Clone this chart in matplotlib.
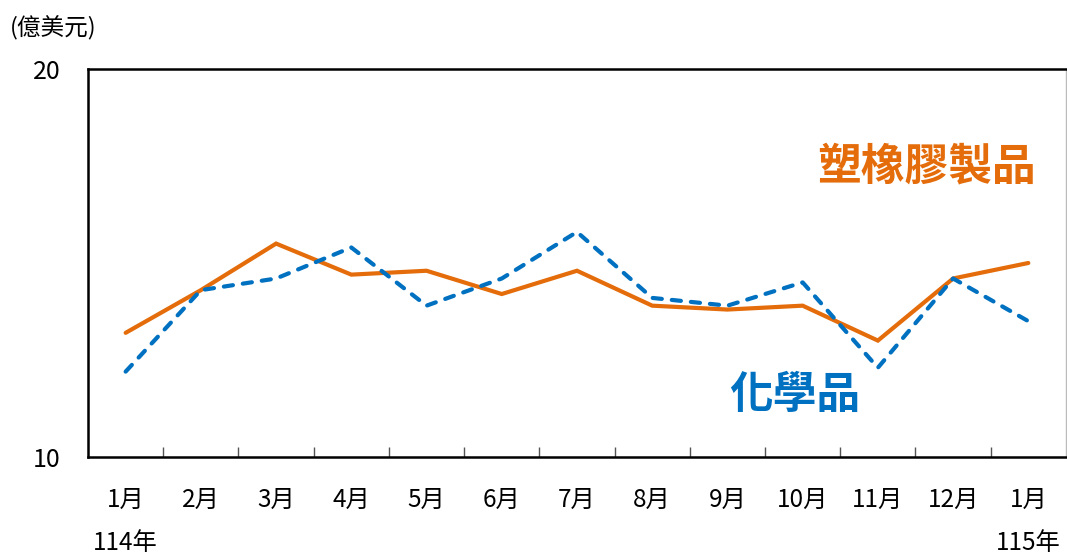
import matplotlib
matplotlib.use("Agg")
import matplotlib.pyplot as plt
import matplotlib.transforms as mtransforms

plt.rcParams['font.family'] = ['Noto Sans CJK TC', 'DejaVu Sans']

# data (億美元)
months = ["1月", "2月", "3月", "4月", "5月", "6月", "7月",
          "8月", "9月", "10月", "11月", "12月", "1月"]
plastics = [13.2, 14.3, 15.5, 14.7, 14.8, 14.2, 14.8,
            13.9, 13.8, 13.9, 13.0, 14.6, 15.0]
chemicals = [12.2, 14.3, 14.6, 15.4, 13.9, 14.6, 15.8,
             14.1, 13.9, 14.5, 12.3, 14.6, 13.5]
years = ["114年", "115年"]

orange = "#E46C0A"
blue = "#0070C0"

fig = plt.figure(figsize=(10.67, 5.55), dpi=100)
ax = fig.add_axes([0.0825, 0.1766, 0.9165, 0.6991])

x = list(range(len(months)))
ax.plot(x, plastics, color=orange, lw=3.0, solid_capstyle='round',
        solid_joinstyle='miter')
ax.plot(x, chemicals, color=blue, lw=3.0, dashes=(2.2, 2.4),
        dash_capstyle='round')

ax.set_xlim(-0.5, len(months) - 0.5)
ax.set_ylim(10, 20)
ax.set_yticks([10, 20])
ax.set_yticklabels(["10", "20"], fontsize=18)
ax.tick_params(axis='y', length=0, pad=20)

# tick marks between categories, labels drawn as text
ax.set_xticks([i + 0.5 for i in range(len(months) - 1)])
ax.set_xticklabels([])
ax.tick_params(axis='x', direction='in', length=7, width=1, color='#555555')

trans = mtransforms.blended_transform_factory(ax.transData, ax.transAxes)
for i, m in enumerate(months):
    ax.text(i, -0.11, m, transform=trans, ha='center', va='center', fontsize=17.5)
ax.text(0, -0.222, years[0], transform=trans, ha='center', va='center', fontsize=17.5)
ax.text(len(months) - 1, -0.222, years[1], transform=trans, ha='center',
        va='center', fontsize=17.5)

for side in ['left', 'bottom', 'top']:
    ax.spines[side].set_linewidth(1.8)
    ax.spines[side].set_color('black')
ax.spines['right'].set_linewidth(1.0)
ax.spines['right'].set_color('#BBBBBB')

ax.text(12.1, 17.5, "塑橡膠製品", color=orange, fontsize=31.5, fontweight='bold',
        ha='right', va='center')
ax.text(9.77, 11.6, "化學品", color=blue, fontsize=31.5, fontweight='bold',
        ha='right', va='center')

fig.text(0.009, 0.95, "(億美元)", fontsize=17, ha='left', va='center')

fig.savefig("out.png", dpi=100)
